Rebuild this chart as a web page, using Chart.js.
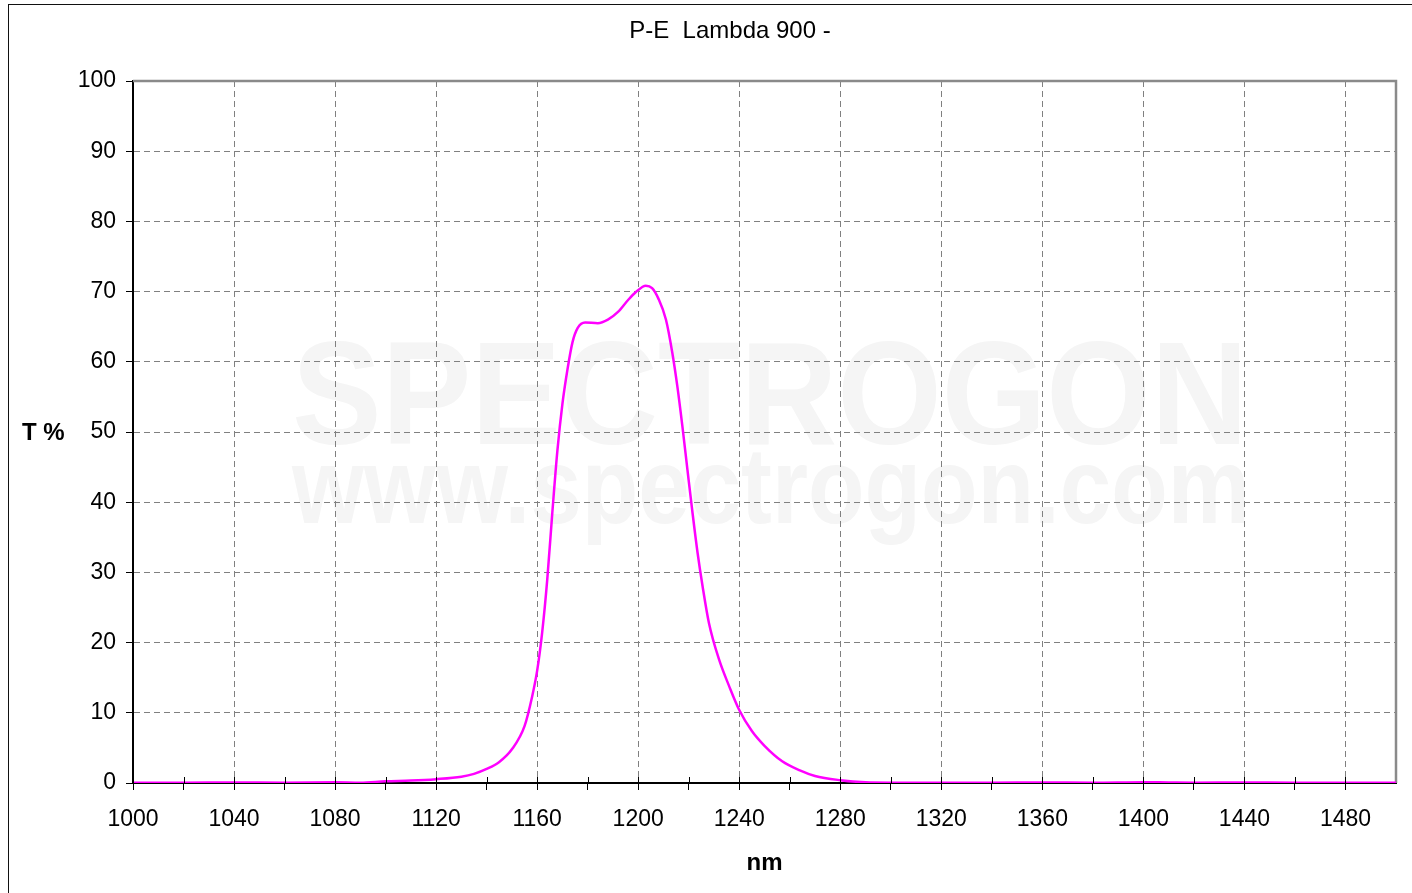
<!DOCTYPE html>
<html>
<head>
<meta charset="utf-8">
<title>P-E Lambda 900</title>
<script src="https://cdn.jsdelivr.net/npm/chart.js@4/dist/chart.umd.min.js"></script>
<style>
    html, body { margin: 0; padding: 0; background: #fff; overflow: hidden; }
    #frame { position: absolute; left: 8px; top: 4px; width: 1500px; height: 1000px; border-left: 1px solid #111; border-top: 1px solid #111; }
    #grafico { position: absolute; left: 0; top: 0; }
</style>
</head>
<body>
<div id="frame"></div>
<canvas id="grafico" width="1412" height="893"></canvas>
<script>
// Curva de transmision (nm, T %)
const wavelength = [
    1000, 1020, 1040, 1060, 1080, 1090, 1100, 1110, 1120, 1130,
    1135, 1140, 1145, 1150, 1155, 1158, 1160, 1162, 1164,
    1166, 1168, 1170, 1172, 1174, 1176, 1179, 1184, 1188, 1192,
    1196, 1199, 1203, 1205.5, 1208, 1211, 1213.5, 1215.5, 1217.5, 1219.5,
    1221.5, 1223.5, 1225.5, 1228, 1232, 1236, 1240, 1245, 1250, 1257,
    1264, 1270, 1280, 1290, 1300, 1320, 1340, 1360, 1380, 1400,
    1410, 1420, 1440, 1460, 1480, 1500
];
const transmission = [
    0.05, 0.05, 0.08, 0.05, 0.1, 0.05, 0.25, 0.35, 0.55, 0.9,
    1.3, 2.0, 3.0, 4.8, 8.1, 12.3, 16.0, 21.5, 29.0,
    38.5, 47.3, 54.0, 58.9, 62.8, 64.8, 65.6, 65.5, 66.0, 67.1,
    68.8, 69.9, 70.85, 70.5, 69.0, 66.0, 61.3, 56.5, 50.8, 44.6,
    38.5, 32.8, 28.0, 22.8, 17.6, 13.8, 10.4, 7.4, 5.3, 3.1,
    1.8, 1.0, 0.4, 0.1, 0.05, 0.05, 0.05, 0.08, 0.05, 0.12,
    0.08, 0.05, 0.08, 0.05, 0.05, 0.05
];
const xTickLabels = [1000, 1040, 1080, 1120, 1160, 1200, 1240, 1280, 1320, 1360, 1400, 1440, 1480];
const yTickLabels = [0, 10, 20, 30, 40, 50, 60, 70, 80, 90, 100];

const chartTitle = 'P-E  Lambda 900 -';
const yTitle = 'T %';
const xTitle = 'nm';
const watermark = ['SPECTROGON', 'www.spectrogon.com'];

const FONT = 'Arial, "Liberation Sans", Helvetica, sans-serif';
Chart.defaults.font.family = FONT;
Chart.defaults.color = '#000';

const points = wavelength.map(function (w, i) {
    return { x: w, y: transmission[i] };
});

function drawFitted(ctx, text, font, left, right, baseline) {
    ctx.font = font;
    const w = ctx.measureText(text).width;
    ctx.save();
    ctx.translate(left, baseline);
    ctx.scale((right - left) / w, 1);
    ctx.fillText(text, 0, 0);
    ctx.restore();
}

const decor = {
    id: 'decor',
    beforeDraw: function (chart) {
        // marca de agua, detras de la rejilla
        const ctx = chart.ctx;
        ctx.save();
        ctx.fillStyle = '#f5f5f5';
        ctx.textAlign = 'left';
        ctx.textBaseline = 'alphabetic';
        drawFitted(ctx, watermark[0], 'bold 147px ' + FONT, 292, 1248, 444);
        drawFitted(ctx, watermark[1], 'bold 108px ' + FONT, 292, 1250, 523);
        ctx.restore();
    },
    beforeDatasetsDraw: function (chart) {
        const a = chart.chartArea;
        const ctx = chart.ctx;
        ctx.save();
        ctx.strokeStyle = '#8a8a8a';
        ctx.lineWidth = 2.5;
        ctx.beginPath();
        ctx.moveTo(a.left, a.top);
        ctx.lineTo(a.right, a.top);
        ctx.lineTo(a.right, a.bottom);
        ctx.stroke();
        ctx.restore();
    },
    afterDraw: function (chart) {
        const ctx = chart.ctx;
        const xs = chart.scales.x;
        const a = chart.chartArea;
        ctx.save();
        // parte interior de las marcas del eje x
        ctx.strokeStyle = '#000';
        ctx.lineWidth = 1;
        xs.ticks.forEach(function (t) {
            if (t.value >= 1500) return;
            const px = Math.round(xs.getPixelForValue(t.value)) + 0.5;
            ctx.beginPath();
            ctx.moveTo(px, a.bottom - 6);
            ctx.lineTo(px, a.bottom);
            ctx.stroke();
        });
        ctx.fillStyle = '#000';
        ctx.textBaseline = 'middle';
        ctx.textAlign = 'center';
        ctx.font = '24px ' + FONT;
        ctx.fillText(chartTitle, 730, 31);
        ctx.textAlign = 'left';
        ctx.font = 'bold 24px ' + FONT;
        ctx.fillText(yTitle, 22, 433);
        ctx.restore();
    }
};

new Chart(document.getElementById('grafico'), {
    type: 'line',
    data: {
        datasets: [{
            label: 'T %',
            data: points,
            borderColor: '#ff00ff',
            borderWidth: 2.5,
            pointRadius: 0,
            fill: false,
            cubicInterpolationMode: 'monotone'
        }]
    },
    options: {
        responsive: false,
        animation: false,
        events: [],
        layout: { padding: { top: 81, left: 10, right: 15, bottom: 0 } },
        plugins: {
            legend: { display: false },
            tooltip: { enabled: false },
            title: { display: false }
        },
        scales: {
            x: {
                type: 'linear',
                min: 1000,
                max: 1500,
                afterFit: function (s) { s.height = 110; },
                ticks: {
                    stepSize: 20,
                    autoSkip: false,
                    maxRotation: 0,
                    padding: 16,
                    font: { size: 23 },
                    color: '#000',
                    callback: function (v) {
                        return xTickLabels.includes(v) ? String(v) : '';
                    }
                },
                grid: {
                    color: function (c) {
                        return (c.tick && xTickLabels.includes(c.tick.value) && c.tick.value > 1000) ? '#808080' : 'rgba(0,0,0,0)';
                    },
                    lineWidth: 1,
                    tickColor: function (c) {
                        return (c.tick && c.tick.value < 1500) ? '#000' : 'rgba(0,0,0,0)';
                    },
                    tickLength: 7,
                    tickWidth: 1,
                    tickBorderDash: []
                },
                border: { display: true, color: '#000', width: 2, dash: [6, 4] },
                title: {
                    display: true,
                    text: xTitle,
                    color: '#000',
                    font: { size: 24, weight: 'bold' },
                    padding: { top: 0, bottom: 15 }
                }
            },
            y: {
                min: 0,
                max: 100,
                afterFit: function (s) { s.width = 123; },
                ticks: {
                    stepSize: 10,
                    padding: 10,
                    font: { size: 23 },
                    color: '#000',
                    callback: function (v) {
                        return yTickLabels.includes(v) ? String(v) : '';
                    }
                },
                grid: {
                    color: function (c) {
                        return (c.tick && c.tick.value > 0 && c.tick.value < 100) ? '#808080' : 'rgba(0,0,0,0)';
                    },
                    lineWidth: 1,
                    tickColor: '#000',
                    tickLength: 7,
                    tickWidth: 1,
                    tickBorderDash: []
                },
                border: { display: true, color: '#000', width: 2, dash: [6, 4] }
            }
        }
    },
    plugins: [decor]
});
</script>
</body>
</html>
